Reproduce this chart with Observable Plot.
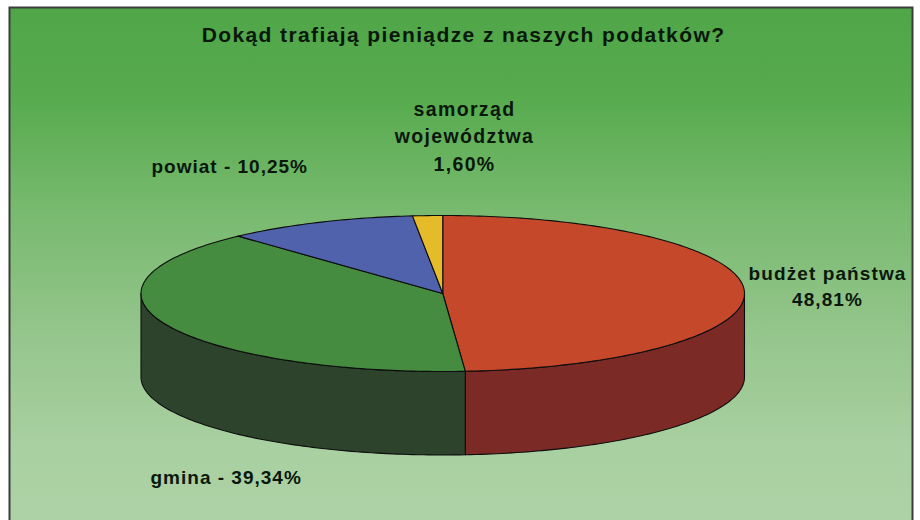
<!DOCTYPE html>
<html lang="pl">
<head>
<meta charset="utf-8">
<style>
html,body{margin:0;padding:0;background:#fff;}
</style>
<script src="https://cdn.jsdelivr.net/npm/d3@7"></script>
<script src="https://cdn.jsdelivr.net/npm/@observablehq/plot@0.6"></script>
</head>
<body>
<script>
const title = "Dokąd trafiają pieniądze z naszych podatków?";
const names = ["budżet państwa", "gmina", "powiat", "samorząd województwa"];
const values = [48.81, 39.34, 10.25, 1.60];
const topColors = ["#c5482a", "#458b40", "#5062ab", "#e6bb2a"];
const sideColors = ["#7c2a25", "#2d432b", "#2a3560", "#80681a"];
const depth = 1.07;

// Angles run clockwise from the top of the ellipse.
const total = d3.sum(values);
const cum = d3.cumsum(values);
const bounds = values.map((v, i) => [(cum[i] - v) / total * 2 * Math.PI, cum[i] / total * 2 * Math.PI]);
const arc = (a0, a1, drop = 0) => {
  const n = Math.max(2, Math.ceil((a1 - a0) / (Math.PI / 180)));
  return d3.range(n + 1).map(k => {
    const a = a0 + (a1 - a0) * k / n;
    return {x: Math.sin(a), y: Math.cos(a) - drop};
  });
};
const topFaces = bounds.map(([a0, a1]) => [{x: 0, y: 0}, ...arc(a0, a1)]);
const frontFrom = Math.PI / 2, frontTo = 3 * Math.PI / 2;
const sideFaces = bounds.map(([a0, a1], i) => {
  const s = Math.max(a0, frontFrom), e = Math.min(a1, frontTo);
  if (e <= s) return null;
  return {i, pts: [...arc(s, e), ...arc(s, e, depth).reverse()]};
}).filter(Boolean);

const poly = (pts, fill) => Plot.line(pts, {
  x: "x", y: "y", fill, stroke: "#0d0d0d", strokeWidth: 1.1,
  curve: "linear-closed", strokeLinejoin: "round"
});
const label = (text, dx, dy, textAnchor = "middle", fontSize = 19, spacing = 1.1) => Plot.text([text], {
  text: d => d, frameAnchor: "top-left", dx, dy, textAnchor,
  lineAnchor: "middle", lineHeight: 1.4, fontSize, fontWeight: "bold",
  fontFamily: "'Liberation Sans', Arial, sans-serif", fill: "#0a180a",
  render(index, scales, values, dimensions, context, next) {
    const g = next(index, scales, values, dimensions, context);
    g.style.letterSpacing = spacing + "px";
    return g;
  }
});

const defs = () => {
  const d = d3.create("svg:defs");
  const g = d.append("linearGradient").attr("id", "bg").attr("x1", 0).attr("y1", 0).attr("x2", 0).attr("y2", 1);
  [[0, "#4fa647"], [0.18, "#58ab4f"], [0.38, "#76b96d"], [0.62, "#94c58b"], [0.85, "#a9d0a1"], [1, "#add2a6"]]
    .forEach(([o, c]) => g.append("stop").attr("offset", o).attr("stop-color", c));
  return d.node();
};

const chart = Plot.plot({
  width: 920, height: 520,
  margin: 0,
  style: {background: "#fff", overflow: "hidden"},
  x: {domain: [-1, 1], range: [140.5, 744], axis: null},
  y: {domain: [-1, 1], range: [371, 215], axis: null},
  marks: [
    defs,
    Plot.frame({fill: "url(#bg)", stroke: "#3c3c3c", strokeWidth: 2, insetLeft: 9, insetTop: 7, insetRight: 8, insetBottom: -6}),
    ...sideFaces.map(f => poly(f.pts, sideColors[f.i])),
    ...topFaces.map((pts, i) => poly(pts, topColors[i])),
    label(title, 463, 32, "middle", 21, 1.4),
    label("samorząd\nwojewództwa\n" + "1,60%", 464, 134, "middle", 19.5, 1.35),
    label("powiat - 10,25%", 151, 164, "start", 19, 1.0),
    label("budżet państwa\n48,81%", 827, 284),
    label("gmina - 39,34%", 150, 475, "start", 19, 1.0)
  ]
});
document.body.appendChild(chart);
</script>
</body>
</html>
